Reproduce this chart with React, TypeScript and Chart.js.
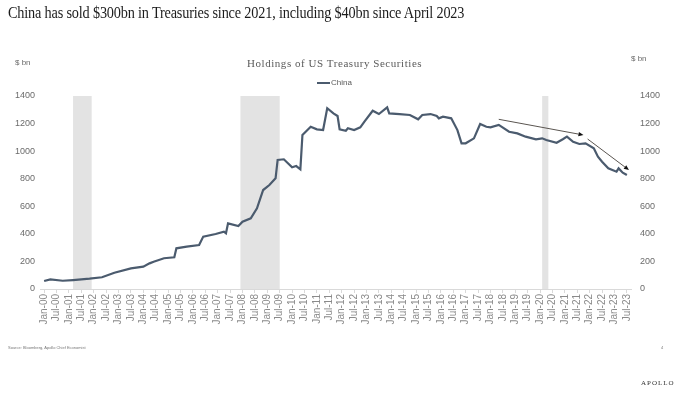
import React, { useEffect, useRef } from "react";
import { Chart, registerables } from "chart.js";

Chart.register(...registerables);

const tickLabels = [
  "Jan-00", "Jul-00", "Jan-01", "Jul-01", "Jan-02", "Jul-02", "Jan-03", "Jul-03",
  "Jan-04", "Jul-04", "Jan-05", "Jul-05", "Jan-06", "Jul-06", "Jan-07", "Jul-07",
  "Jan-08", "Jul-08", "Jan-09", "Jul-09", "Jan-10", "Jul-10", "Jan-11", "Jul-11",
  "Jan-12", "Jul-12", "Jan-13", "Jul-13", "Jan-14", "Jul-14", "Jan-15", "Jul-15",
  "Jan-16", "Jul-16", "Jan-17", "Jul-17", "Jan-18", "Jul-18", "Jan-19", "Jul-19",
  "Jan-20", "Jul-20", "Jan-21", "Jul-21", "Jan-22", "Jul-22", "Jan-23", "Jul-23",
];

const months = [
  "2000-01", "2000-04", "2000-10", "2001-03", "2001-11", "2002-05", "2002-11", "2003-07",
  "2004-01", "2004-04", "2004-06", "2004-11", "2005-04", "2005-05", "2005-10", "2006-04",
  "2006-06", "2006-12", "2007-04", "2007-05", "2007-06", "2007-11", "2008-01", "2008-05",
  "2008-08", "2008-11", "2009-02", "2009-05", "2009-06", "2009-09", "2010-01", "2010-03",
  "2010-05", "2010-06", "2010-10", "2011-01", "2011-04", "2011-06", "2011-09", "2011-11",
  "2011-12", "2012-03", "2012-04", "2012-07", "2012-10", "2012-12", "2013-04", "2013-07",
  "2013-11", "2013-12", "2014-05", "2014-10", "2015-02", "2015-04", "2015-08", "2015-11",
  "2015-12", "2016-02", "2016-06", "2016-09", "2016-11", "2017-01", "2017-05", "2017-08",
  "2017-11", "2018-01", "2018-05", "2018-10", "2019-02", "2019-06", "2019-11", "2020-02",
  "2020-04", "2020-09", "2020-12", "2021-02", "2021-05", "2021-08", "2021-11", "2022-03",
  "2022-05", "2022-07", "2022-10", "2022-12", "2023-02", "2023-03", "2023-05", "2023-07",
];

const holdings = [
  58, 70, 60, 65, 75, 85, 118, 150,
  162, 186, 198, 223, 230, 295, 307, 319,
  380, 399, 416, 404, 476, 457, 488, 513,
  585, 718, 754, 803, 936, 941, 883, 892,
  868, 1117, 1177, 1158, 1153, 1311, 1274, 1255,
  1158, 1148, 1166, 1153, 1173, 1214, 1293, 1269,
  1318, 1274, 1269, 1262, 1231, 1262, 1269, 1255,
  1238, 1250, 1238, 1153, 1057, 1057, 1093, 1197,
  1177, 1173, 1190, 1141, 1129, 1105, 1086, 1093,
  1081, 1061, 1086, 1105, 1068, 1052, 1057, 1021,
  960, 923, 875, 863, 851, 875, 844, 827,
];

const recessionStarts = ["2001-03", "2007-12", "2020-02"];
const recessionEnds = ["2001-11", "2009-06", "2020-04"];

const arrowFromMonths = ["2018-05", "2021-12"];
const arrowFromValues = [1231, 1088];
const arrowToMonths = ["2021-10", "2023-08"];
const arrowToValues = [1117, 863];

const monthIndex = (s: string) => {
  const [y, m] = s.split("-").map(Number);
  return (y - 2000) * 12 + (m - 1);
};

const LINE_COLOR = "#4b5b6e";
const SANS = "'Liberation Sans', Arial, sans-serif";
const SERIF = "'Liberation Serif', 'Times New Roman', serif";

const recessionPlugin = {
  id: "recessions",
  beforeDatasetsDraw(chart: any) {
    const { ctx, chartArea, scales } = chart;
    const x = scales.x;
    ctx.save();
    ctx.fillStyle = "#e3e3e3";
    for (let i = 0; i < recessionStarts.length; i++) {
      const x0 = x.getPixelForValue(monthIndex(recessionStarts[i]));
      const x1 = x.getPixelForValue(monthIndex(recessionEnds[i]) + 1);
      ctx.fillRect(x0, chartArea.top, x1 - x0, chartArea.bottom - chartArea.top);
    }
    ctx.restore();
  },
};

const arrowPlugin = {
  id: "arrows",
  afterDatasetsDraw(chart: any) {
    const { ctx, scales } = chart;
    const xs = scales.x;
    const ys = scales.y;
    ctx.save();
    for (let i = 0; i < arrowFromMonths.length; i++) {
      const x0 = xs.getPixelForValue(monthIndex(arrowFromMonths[i]));
      const y0 = ys.getPixelForValue(arrowFromValues[i]);
      const x1 = xs.getPixelForValue(monthIndex(arrowToMonths[i]));
      const y1 = ys.getPixelForValue(arrowToValues[i]);
      const ang = Math.atan2(y1 - y0, x1 - x0);
      const len = 5;
      const hw = 2.2;
      const bx = x1 - len * Math.cos(ang);
      const by = y1 - len * Math.sin(ang);
      ctx.strokeStyle = "#5a5550";
      ctx.lineWidth = 1;
      ctx.beginPath();
      ctx.moveTo(x0, y0);
      ctx.lineTo(bx, by);
      ctx.stroke();
      ctx.fillStyle = "#111";
      ctx.beginPath();
      ctx.moveTo(x1, y1);
      ctx.lineTo(bx - hw * Math.sin(ang), by + hw * Math.cos(ang));
      ctx.lineTo(bx + hw * Math.sin(ang), by - hw * Math.cos(ang));
      ctx.closePath();
      ctx.fill();
    }
    ctx.restore();
  },
};

function ChinaChart() {
  const ref = useRef<HTMLCanvasElement | null>(null);
  useEffect(() => {
    if (!ref.current) return;
    const data = months.map((m, i) => ({ x: monthIndex(m), y: holdings[i] }));
    const tickValues = tickLabels.map((_, i) => i * 6);
    const chart = new Chart(ref.current, {
      type: "line",
      data: {
        datasets: [
          {
            label: "China",
            data,
            borderColor: LINE_COLOR,
            borderWidth: 2.2,
            pointRadius: 0,
            tension: 0,
            fill: false,
          },
        ],
      },
      options: {
        animation: false,
        responsive: false,
        maintainAspectRatio: false,
        layout: { padding: { top: 96, left: 0, right: 0, bottom: 0 } },
        plugins: { legend: { display: false }, title: { display: false }, tooltip: { enabled: false } },
        scales: {
          x: {
            type: "linear",
            min: -2,
            max: 284,
            afterBuildTicks: (scale: any) => {
              scale.ticks = tickValues.map((v) => ({ value: v }));
            },
            afterFit: (scale: any) => {
              scale.height = 107;
            },
            grid: {
              display: true,
              drawOnChartArea: false,
              drawTicks: true,
              tickLength: 4,
              color: "#d9d9d9",
            },
            border: { display: true, color: "#d9d9d9", width: 1 },
            ticks: {
              autoSkip: false,
              minRotation: 90,
              maxRotation: 90,
              padding: 1,
              color: "#8a8a8a",
              font: { family: SANS, size: 10 },
              callback: (v: any) => {
                const idx = tickValues.indexOf(Number(v));
                return idx >= 0 ? tickLabels[idx] : "";
              },
            },
          },
          y: {
            type: "linear",
            position: "left",
            min: 0,
            max: 1400,
            afterFit: (scale: any) => {
              scale.width = 40;
            },
            grid: { display: false, drawTicks: false },
            border: { display: false },
            ticks: {
              stepSize: 200,
              padding: 5,
              color: "#6b6b6b",
              font: { family: SANS, size: 9 },
              callback: (v: any) => String(v),
            },
          },
          y2: {
            type: "linear",
            position: "right",
            min: 0,
            max: 1400,
            afterFit: (scale: any) => {
              scale.width = 49;
            },
            grid: { display: false, drawTicks: false },
            border: { display: false },
            ticks: {
              stepSize: 200,
              padding: 9,
              color: "#6b6b6b",
              font: { family: SANS, size: 9 },
              callback: (v: any) => String(v),
            },
          },
        },
      },
      plugins: [recessionPlugin, arrowPlugin],
    } as any);
    return () => chart.destroy();
  }, []);
  return (
    <canvas
      ref={ref}
      width={680}
      height={396}
      style={{ position: "absolute", left: 0, top: 0, width: 680, height: 396, display: "block" }}
    />
  );
}

export default function App() {
  const abs = (style: React.CSSProperties): React.CSSProperties => ({
    position: "absolute",
    whiteSpace: "nowrap",
    margin: 0,
    ...style,
  });
  return (
    <div
      style={{
        position: "fixed",
        left: 0,
        top: 0,
        width: 680,
        height: 396,
        background: "#fff",
        overflow: "hidden",
      }}
    >
      <ChinaChart />
      <div
        style={abs({
          left: 8,
          top: 5,
          fontFamily: SERIF,
          fontSize: 16,
          lineHeight: "16px",
          color: "#1c1c1c",
          letterSpacing: "-0.2px",
          transform: "scaleX(0.892)",
          transformOrigin: "0 0",
        })}
      >
        China has sold $300bn in Treasuries since 2021, including $40bn since April 2023
      </div>
      <div
        style={abs({
          left: 247,
          top: 58,
          fontFamily: SERIF,
          fontSize: 11,
          lineHeight: "11px",
          color: "#5a5a5a",
          letterSpacing: "0.55px",
        })}
      >
        Holdings of US Treasury Securities
      </div>
      <div style={abs({ left: 317, top: 82, width: 13, height: 2, background: LINE_COLOR })} />
      <div
        style={abs({
          left: 331,
          top: 79,
          fontFamily: SANS,
          fontSize: 8,
          lineHeight: "8px",
          color: "#5a5a5a",
        })}
      >
        China
      </div>
      <div
        style={abs({ left: 15, top: 59, fontFamily: SANS, fontSize: 8, lineHeight: "8px", color: "#6b6b6b" })}
      >
        $ bn
      </div>
      <div
        style={abs({ left: 631, top: 55, fontFamily: SANS, fontSize: 8, lineHeight: "8px", color: "#6b6b6b" })}
      >
        $ bn
      </div>
      <div
        style={abs({ left: 8, top: 346, fontFamily: SANS, fontSize: 4, lineHeight: "4px", color: "#777" })}
      >
        Source: Bloomberg, Apollo Chief Economist
      </div>
      <div
        style={abs({ left: 661, top: 346, fontFamily: SANS, fontSize: 4, lineHeight: "4px", color: "#777" })}
      >
        4
      </div>
      <div
        style={abs({
          left: 641,
          top: 380,
          fontFamily: SERIF,
          fontSize: 7,
          lineHeight: "7px",
          color: "#333",
          letterSpacing: "1px",
        })}
      >
        APOLLO
      </div>
    </div>
  );
}
